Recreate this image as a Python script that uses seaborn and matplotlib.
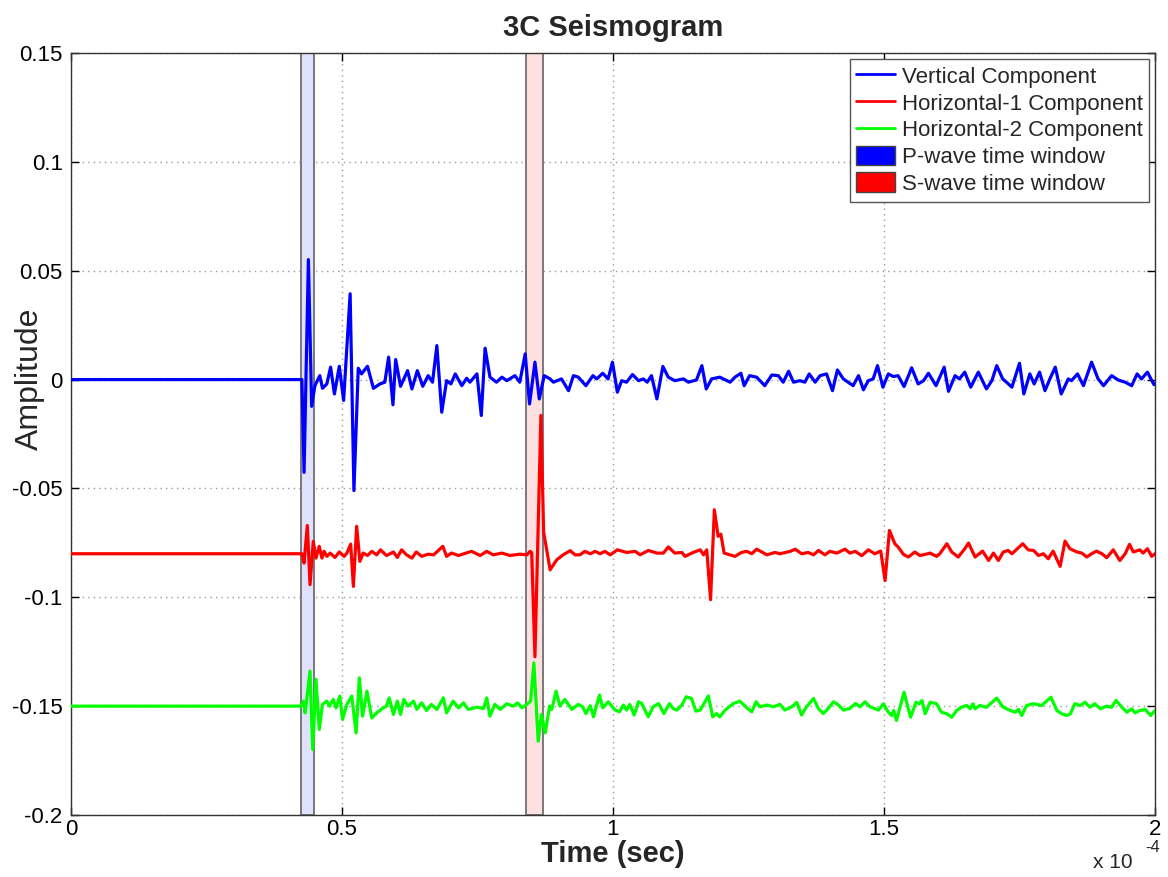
import numpy as np
import pandas as pd
import matplotlib
matplotlib.use("Agg")
import matplotlib.pyplot as plt
from matplotlib.lines import Line2D
from matplotlib.patches import Patch
import seaborn as sns

# ---------------- data (time in microseconds, amplitude deviations in 1e-3) -------------
vert_t = [0, 42.6, 43.0, 43.8, 44.4, 45.0, 45.9, 46.4, 47.2, 47.9, 48.6, 49.5, 50.3, 51.5, 52.2,
          53.0, 53.6, 54.7, 55.8, 57.0, 57.9, 58.6, 59.4, 59.9, 60.8, 62.1, 62.9, 63.9, 64.9, 65.9,
          66.7, 67.5, 68.4, 69.3, 70.1, 70.9, 72.1, 73.0, 73.6, 74.9, 75.7, 76.4, 77.3, 78.5, 79.5,
          80.4, 81.9, 82.8, 83.8, 84.6, 85.6, 86.4, 87.3, 88.4, 89.0, 90.5, 91.8, 92.7, 93.6, 95.0,
          96.3, 97.0, 98.1, 99.1, 99.9, 100.8, 101.6, 102.5, 103.6, 104.7, 105.6, 106.3, 107.1,
          108.1, 109.2, 110.2, 111.4, 113.0, 113.9, 115.4, 116.4, 117.2, 118.2, 119.7, 121.6, 122.5,
          123.6, 124.2, 125.2, 126.5, 128.0, 129.3, 130.5, 131.4, 132.4, 133.3, 134.5, 135.4, 136.2,
          137.3, 138.2, 139.4, 140.5, 141.4, 142.5, 144.3, 145.3, 146.2, 147.1, 148.0, 148.8, 149.8,
          150.8, 151.7, 152.6, 153.7, 155.1, 156.3, 157.3, 158.2, 159.6, 161.1, 161.9, 163.1, 163.9,
          164.9, 166.0, 167.4, 168.9, 169.9, 170.8, 171.9, 172.6, 173.6, 175.0, 175.8, 176.9, 177.7,
          178.7, 179.7, 180.6, 181.6, 182.7, 184.0, 184.6, 185.7, 186.8, 188.3, 189.5, 190.5, 192.0,
          193.2, 194.5, 195.7, 196.7, 197.5, 198.6, 199.8, 200.0]
vert_a = [0, 0, -42.6, 55.1, -12.3, -2.8, 1.8, -4.0, -2.0, 5.7, -6.6, 6.1, -9.6, 39.4, -51.0,
          5.2, 2.6, 6.1, -4.0, -2.0, -1.2, 10.3, -11.6, 9.2, -3.1, 4.1, -4.3, 4.1, -3.1, 1.8,
          -1.2, 15.6, -15.0, -0.5, -2.0, 2.6, -2.8, 0.6, -1.2, 2.6, -16.5, 14.4, 1.1, -1.2, 1.1,
          -0.5, 1.8, -1.2, 11.8, -11.2, 8.0, -8.9, 1.8, 0.3, -1.2, 0.3, -5.1, 1.8, 1.1, -2.8,
          1.8, 0.3, 2.9, 0.3, 8.0, -5.8, -0.5, -1.2, 2.3, -0.5, 0.3, -1.2, 1.8,
          -8.9, 6.0, 1.1, -0.5, 0.3, -1.2, -0.2, 6.4, -4.3, 0.3, 1.1, -1.2, 1.1,
          2.9, -2.8, 1.8, 1.1, -2.8, 2.1, 1.8, -1.2, 3.8, -1.2, -0.5, -1.2, 2.6,
          -1.2, 1.8, 2.6, -5.1, 4.4, 0.3, -2.8, 1.8, -4.7, -0.5, 0.3, 6.4, -3.5,
          2.6, 1.4, 1.8, -3.2, 5.4, -2.0, -0.5, 2.9, -2.8, 5.7, -5.4, 1.8, 0.3,
          3.4, -3.5, 3.4, -4.3, -0.5, 6.4, 0.3, -1.2, -3.5, 7.5, -6.6, 2.6, -2.0,
          3.4, -5.1, 0.3, 5.7, -6.6, 0.3, -0.5, 2.6, -2.8, 8.0, 0.3, -2.8, 1.8,
          -0.2, -1.2, -2.8, 2.6, 0.3, 3.4, -2.3, -2.0]

h1_t = [0, 42.6, 43.0, 43.6, 44.1, 44.7, 45.2, 45.8, 46.3, 46.7, 47.2, 47.8, 48.7, 49.5, 50.4,
        50.9, 51.6, 52.1, 52.7, 53.3, 53.9, 54.7, 55.5, 56.4, 57.1, 58.2, 59.5, 60.2, 61.0, 61.9,
        62.9, 63.7, 64.7, 65.9, 66.9, 68.6, 69.3, 70.2, 71.5, 73.9, 75.5, 76.7, 77.9, 79.5, 81.0,
        82.8, 84.1, 84.7, 85.0, 85.6, 86.7, 87.2, 88.4, 89.6, 90.8, 92.1, 93.0, 93.9, 94.8, 95.8,
        96.7, 97.6, 98.5, 99.5, 100.8, 102.5, 104.1, 105.0, 106.5, 108.1, 109.3, 110.2, 111.4,
        112.7, 113.3, 114.8, 116.1, 116.7, 117.3, 118.0, 118.7, 119.4, 119.9, 120.5, 121.6, 122.5,
        123.7, 124.7, 125.6, 126.5, 128.4, 129.9, 130.8, 132.7, 133.6, 134.8, 136.0, 137.0, 137.9,
        139.1, 140.0, 141.3, 142.8, 143.7, 144.7, 145.9, 147.1, 148.3, 149.4, 150.2, 151.0, 152.0,
        152.6, 153.6, 154.5, 155.7, 156.6, 157.6, 158.5, 159.7, 160.3, 161.6, 162.5, 163.7, 164.9,
        165.6, 166.8, 168.2, 169.3, 170.2, 171.1, 172.0, 172.9, 173.6, 175.6, 176.6, 177.6, 178.5,
        179.4, 180.3, 181.2, 182.5, 183.4, 184.3, 185.6, 186.5, 187.4, 188.3, 189.2, 190.2, 191.1,
        192.3, 193.5, 194.5, 195.3, 196.0, 197.2, 197.8, 198.6, 199.4, 200.0]
h1_a = [0, 0, -4.3, 13.0, -14.2, 5.7, -2.0, 3.4, -2.0, 1.1, -1.2, 0.3, -1.7, 0.8, -1.2,
        0.3, 4.4, -15.0, 12.6, -3.5, 0.3, -0.8, 1.1, -0.5, 1.8, -0.8, 0.8, -1.7, 1.8, -0.5,
        -2.0, 0.8, -1.2, -0.2, -0.5, 3.4, -1.2, 0.3, -0.8, 1.1, -0.8, 1.1, -0.5, 0.3, -0.8,
        -0.2, -0.5, 1.1, 0.5, -47.3, 63.5, 10.0, -7.4, -2.8, -0.5, 1.4, -0.5, -0.5, 1.1, 0.0,
        1.1, 0.0, 1.1, -0.5, 1.8, 0.6, 1.1, -0.5, 1.5, 0.3, 0.3, 3.1, 0.3,
        0.6, -1.2, 0.6, 1.8, -0.5, 1.8, -21.1, 20.2, 8.0, 9.0, 0.3, -0.5, -1.2,
        0.6, 1.1, 0.0, 2.1, -0.5, 0.6, 0.0, 1.1, 2.1, 0.0, 0.6, -0.5, 1.5,
        -0.5, 1.1, 0.3, 2.1, 0.3, 1.1, -0.9, 1.8, 0.0, 1.2, -12.3, 10.7, 4.6,
        3.1, -0.3, -1.5, 0.8, -0.8, -0.3, 0.3, -1.2, 0.0, 4.6, 0.8, -1.5, 2.3,
        4.9, -1.5, 1.2, -3.1, 0.3, -3.1, 0.8, 1.5, 0.0, 4.6, 1.8, 1.5, -0.8,
        0.0, -2.3, 1.2, -5.8, 5.8, 2.3, 0.8, 0.3, -1.5, 0.0, 1.2, 0.0, -1.8,
        1.8, -3.1, 0.0, 4.3, 0.8, 1.8, 0.3, 2.3, -1.2, 0.0]

h2_t = [0, 42.4, 42.9, 43.2, 44.1, 44.6, 45.2, 45.8, 46.4, 47.2, 47.7, 48.4, 48.9, 49.6, 50.1,
        50.9, 51.8, 52.2, 52.6, 53.2, 53.8, 54.6, 55.5, 56.4, 57.6, 58.2, 58.7, 59.5, 60.2, 60.8,
        61.4, 62.2, 63.2, 63.8, 64.7, 65.6, 66.5, 67.5, 68.7, 69.3, 70.5, 71.5, 72.4, 73.3, 74.9,
        76.1, 76.7, 77.3, 78.2, 79.2, 80.4, 81.6, 82.4, 83.2, 84.1, 84.8, 85.4, 86.2, 86.8, 87.5,
        88.3, 88.7, 89.5, 90.2, 91.1, 92.4, 93.6, 94.4, 95.0, 95.8, 96.4, 97.5, 98.1, 99.1,
        100.4, 101.2, 101.9, 102.5, 103.1, 103.9, 104.7, 105.3, 106.5, 107.4, 108.4, 109.4, 110.4,
        111.1, 111.8, 112.7, 113.5, 114.5, 115.3, 116.1, 117.6, 118.4, 119.1, 119.7, 120.7, 122.2,
        123.4, 124.7, 125.6, 126.4, 127.1, 128.4, 129.6, 130.8, 131.7, 133.0, 133.9, 134.8, 135.7,
        137.0, 137.9, 138.8, 139.7, 140.7, 141.6, 142.5, 143.7, 144.7, 145.6, 146.5, 147.4, 149.0,
        149.9, 150.8, 151.4, 151.8, 152.3, 153.7, 154.9, 155.9, 156.5, 157.0, 157.6, 158.5, 159.7,
        160.6, 161.6, 162.5, 163.4, 164.3, 165.3, 165.9, 166.4, 166.8, 167.7, 168.9, 170.8, 172.0,
        173.3, 174.2, 174.8, 175.4, 176.3, 177.6, 179.1, 180.8, 181.9, 182.8, 183.7, 184.4, 185.2,
        186.2, 187.1, 188.0, 188.9, 189.9, 191.1, 192.0, 192.8, 193.9, 194.8, 195.7, 196.3, 197.2,
        198.2, 199.2, 200.0]
h2_a = [0, 0, 2.3, -3.1, 16.1, -19.9, 12.3, -10.7, 0.8, 2.3, 0.0, 3.1, -0.8, 4.6, -6.1,
        0.8, 4.6, -3.8, -12.3, 13.0, -4.6, 6.9, -5.4, -3.1, -0.8, 0.0, 3.8, -3.8, 2.3, -3.8,
        3.1, 0.0, 2.3, -1.5, 1.5, -2.0, 0.8, -1.5, 3.8, -3.1, 2.3, -0.8, 1.5, -1.5, -0.5,
        -1.1, 3.8, -4.6, 0.8, -1.5, 1.1, 0.0, 1.5, -0.8, 0.8, 2.3, 19.9, -16.1, -3.8, -12.3,
        0.0, -1.5, 6.9, 0.0, 3.1, -1.5, 0.8, -0.3, -3.4, 0.2, -4.9, 5.1, -0.8, 2.0,
        -1.8, -2.6, 0.5, -1.8, 0.8, -4.1, 2.0, 1.2, -4.9, -0.3, 1.2, -3.4, 1.2,
        -1.1, -1.8, 0.5, 4.3, 3.5, -2.3, -1.8, 4.7, -4.9, -3.4, -4.9, -1.8, 1.2,
        2.3, -0.8, -2.6, 2.0, -0.3, 0.5, -0.3, 0.8, -1.8, -0.3, 1.7, -4.1, -0.3,
        3.5, -1.1, -3.4, -1.1, 2.0, 0.5, -1.8, -1.1, 1.2, -0.3, 2.0, -0.3, -1.8,
        1.1, -2.8, -4.3, -2.0, -6.6, 6.4, -5.1, 1.8, 1.1, 2.6, -3.5, 1.8, 1.1,
        -2.8, -3.5, -5.1, -2.0, -0.5, 0.3, -1.2, 1.1, -1.2, 0.3, -0.5, 3.7, -0.5,
        -2.0, -2.8, -1.5, -4.3, 0.3, 1.1, 0.3, 4.1, -2.0, -3.5, -4.3, -3.5, 1.1,
        0.3, 1.8, -0.5, 1.1, -1.2, 0.0, -0.5, 2.6, -0.5, -2.8, -1.2, -3.1, -2.0,
        -1.5, -4.3, -2.0]

components = ["Vertical Component", "Horizontal-1 Component", "Horizontal-2 Component"]
offsets = [0.0, -0.08, -0.15]
colors = ["#0000ff", "#ff0000", "#00ff00"]
p_window = [42.4, 44.8]   # microseconds
s_window = [83.95, 87.1]  # microseconds
x_ticks = [0, 0.5, 1, 1.5, 2]           # x 1e-4 s
y_ticks = [-0.2, -0.15, -0.1, -0.05, 0, 0.05, 0.1, 0.15]
y_tick_labels = ["-0.2", "-0.15", "-0.1", "-0.05", "0", "0.05", "0.1", "0.15"]

# ---------------- build frame ----------------
frames = []
for name, off, tt, aa in zip(components, offsets, [vert_t, h1_t, h2_t], [vert_a, h1_a, h2_a]):
    assert len(tt) == len(aa), (name, len(tt), len(aa))
    frames.append(pd.DataFrame({"Time": np.array(tt) * 1e-6,
                                "Amplitude": np.array(aa) * 1e-3 + off,
                                "Component": name}))
df = pd.concat(frames, ignore_index=True)

sns.set_theme(style="white")
plt.rcParams["font.family"] = ["Liberation Sans", "DejaVu Sans"]

fig = plt.figure(figsize=(11.68, 8.77), dpi=100)
ax = fig.add_axes([71 / 1168, 62 / 877, 1084 / 1168, 762 / 877])

ax.axvspan(p_window[0] * 1e-6, p_window[1] * 1e-6, facecolor=(0.88, 0.88, 1.0),
           edgecolor="#6e6e6e", linewidth=1.3, zorder=1)
ax.axvspan(s_window[0] * 1e-6, s_window[1] * 1e-6, facecolor=(1.0, 0.88, 0.88),
           edgecolor="#6e6e6e", linewidth=1.3, zorder=1)

sns.lineplot(data=df, x="Time", y="Amplitude", hue="Component", hue_order=components,
             palette=colors, estimator=None, sort=False, linewidth=2.3, legend=False,
             ax=ax, zorder=3)

ax.set_xlim(0, 2e-4)
ax.set_ylim(-0.2, 0.15)
ax.set_xticks([v * 1e-4 for v in x_ticks])
ax.set_xticklabels([("%g" % v) for v in x_ticks])
ax.set_yticks(y_ticks)
ax.set_yticklabels(y_tick_labels)
ax.tick_params(axis="both", direction="in", length=6, width=1, labelsize=16,
               top=True, right=True, bottom=True, left=True, colors="black")
ax.tick_params(axis="x", pad=3)
ax.tick_params(axis="y", pad=6)
ax.grid(True, linestyle=(0, (1, 3)), color="#9a9a9a", linewidth=1.0, zorder=0)
ax.set_axisbelow(True)
for s in ax.spines.values():
    s.set_color("#333333")
    s.set_linewidth(1.0)

ax.set_title("3C Seismogram", fontsize=21, fontweight="bold", pad=12)
ax.set_xlabel("Time (sec)", fontsize=21, fontweight="bold", labelpad=0)
ax.set_ylabel("Amplitude", fontsize=23)
ax.yaxis.set_label_coords(-0.024, 0.573)

fig.text(1093 / 1168, 1 - 862 / 877, "x 10", fontsize=15, va="center", ha="left")
fig.text(1145 / 1168, 1 - 848 / 877, "-4", fontsize=12, va="center", ha="left")

handles = [Line2D([], [], color=c, linewidth=2) for c in colors] + [
    Patch(facecolor="#0000ff", edgecolor="#444444"),
    Patch(facecolor="#ff0000", edgecolor="#444444")]
labels = components + ["P-wave time window", "S-wave time window"]
leg = ax.legend(handles, labels, loc="upper right", fontsize=16, frameon=True,
                fancybox=False, edgecolor="#555555", framealpha=1, handlelength=1.75,
                handleheight=1.0, labelspacing=0.19, borderpad=0.3, handletextpad=0.3,
                borderaxespad=0.25)
leg.get_frame().set_linewidth(1.0)

fig.savefig("out.png", dpi=100, facecolor="white")
